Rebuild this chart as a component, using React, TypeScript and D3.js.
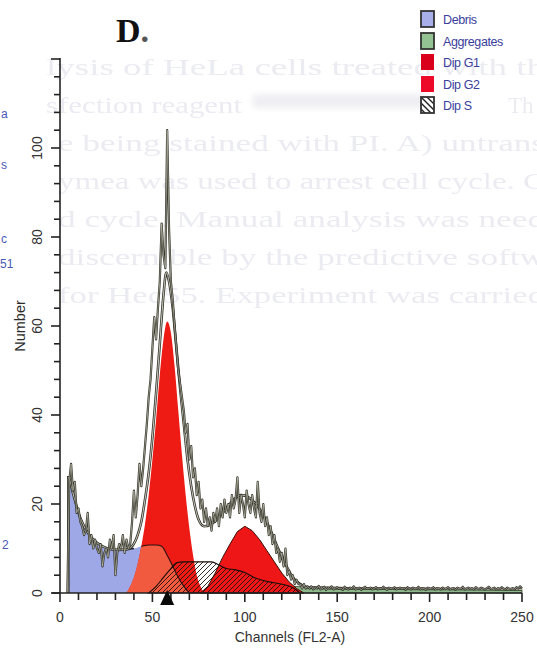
import React from "react";
import * as d3 from "d3";

const W = 537;
const H = 649;

// Axis domains and tick labels
const channelDomain: [number, number] = [0, 250];
const countDomain: [number, number] = [0, 120];
const xTickLabels = [0, 50, 100, 150, 200, 250];
const yTickLabels = [0, 20, 40, 60, 80, 100];
const xMinorStep = 10;
const yMinorStep = 4;

// Legend entries
const legendLabels = ["Debris", "Aggregates", "Dip G1", "Dip G2", "Dip S"];

// Raw histogram counts, one per channel starting at channel 0
const rawCounts = [
  0, 0, 0, 0, 0, 25, 29, 23, 25, 18,
  19, 16, 15, 13, 14, 18, 11, 13, 10, 12,
  10, 9, 11, 6, 9, 10, 8, 12, 10, 13,
  4, 9, 11, 10, 13, 9, 12, 10, 11, 16,
  23, 17, 22, 29, 24, 28, 33, 38, 44, 48,
  55, 62, 57, 64, 70, 83, 76, 73, 104, 82,
  70, 66, 60, 55, 50, 47, 44, 41, 36, 38,
  30, 33, 26, 28, 22, 25, 19, 21, 16, 19,
  15, 17, 14, 18, 16, 19, 15, 20, 17, 21,
  18, 20, 17, 22, 19, 21, 26, 18, 22, 20,
  17, 23, 20, 18, 22, 19, 17, 25, 18, 16,
  20, 15, 17, 13, 15, 11, 13, 9, 10, 7,
  9, 6, 10, 4, 5, 3, 4, 2, 3, 2,
  2, 1, 2, 1, 1.5, 1, 1.5, 0.8, 1.2, 1,
  1.6, 0.8, 1, 1.4, 0.7, 1.2, 1, 1.5, 0.8, 1,
  1.3, 0.9, 1.1, 0.7, 1.4, 1, 0.8, 1.2, 1, 1.5,
  0.8, 1, 1.2, 0.7, 1.1, 1.4, 0.9, 1, 1.2, 0.8,
  1, 1.3, 0.8, 1.1, 0.9, 1.4, 1, 0.7, 1.2, 1,
  0.9, 1.3, 0.8, 1, 1.2, 0.9, 1.1, 0.7, 1.3, 1,
  0.8, 1.2, 1, 0.9, 1.4, 0.8, 1.1, 1, 0.7, 1.2,
  1, 0.9, 1.3, 0.8, 1.1, 1, 0.8, 1.2, 0.9, 1,
  1.3, 0.8, 1, 1.1, 0.7, 1.2, 1, 0.9, 1.4, 0.8,
  1, 1.2, 0.9, 1.1, 0.8, 1.3, 1, 0.9, 1.2, 1,
  0.8, 1.1, 1.4, 0.9, 1, 1.2, 0.8, 1.1, 0.9, 1.3,
  1, 0.8, 1.2, 1, 0.9, 1.1, 0.8, 1.3, 1, 1.5,
  1,
];

// Model components as [channel, count]
const debrisModel: [number, number][] = [
  [4.5, 0], [4.5, 26], [7, 22.5], [10, 18], [13, 15], [16, 13], [20, 11.3],
  [24, 10.3], [28, 9.8], [32, 9.7], [36, 9.8], [40, 10], [44, 10.5],
  [48, 10.8], [52, 10.8], [55, 10.5], [58, 8.5], [61, 6], [64, 3.5],
  [67, 1.5], [70, 0],
];

const aggregatesModel: [number, number][] = [
  [110, 0], [115, 1.2], [125, 1.5], [135, 1.3], [150, 1.1], [175, 1],
  [200, 0.9], [225, 0.9], [250, 0.8],
];

const dipG1Model: [number, number][] = [
  [36, 0], [38, 1.5], [40, 3.5], [42, 6.5], [44, 10.5], [46, 15.5], [48, 22],
  [50, 30], [52, 39], [54, 49], [56, 57], [58, 61], [60, 58.5],
  [62, 51], [64, 41], [66, 31], [68, 22], [70, 14.5], [72, 8.5],
  [74, 4], [76, 1.5], [78, 0],
];

const dipG2Model: [number, number][] = [
  [76, 0], [80, 1.5], [84, 4.5], [88, 8], [92, 11], [96, 13.8], [100, 15],
  [104, 14], [108, 12], [112, 9.5], [116, 7], [120, 4.5], [124, 2.5],
  [128, 1], [132, 0],
];

const dipSModel: [number, number][] = [
  [48, 0], [52, 1.5], [56, 3.5], [60, 5.5], [63, 6.8], [67, 7], [75, 7],
  [82, 7], [86, 6.3], [90, 5.5], [95, 5.2], [100, 4.6], [105, 3.5],
  [110, 2.8], [116, 2.3], [122, 1.8], [126, 1.2], [130, 0],
];

const fitTotal: [number, number][] = [
  [4.5, 0], [4.5, 26], [7, 22.5], [10, 18], [13, 15], [16, 13], [20, 11.3],
  [24, 10.3], [28, 9.8], [32, 9.7], [36, 9.8], [39, 10.5], [42, 13], [44, 16],
  [46, 21], [48, 27], [50, 35], [52, 45], [54, 56], [56, 67], [57.5, 72],
  [59, 70], [61, 64], [63, 55], [65, 46], [67, 38], [69, 30], [71, 24],
  [73, 19.5], [75, 16.5], [78, 15], [82, 15.5], [86, 17], [90, 19], [94, 21],
  [98, 22], [102, 21.5], [106, 20], [110, 17.5], [114, 14], [118, 10],
  [122, 6.5], [126, 3.5], [130, 2], [134, 1.3], [140, 1.2], [170, 1],
  [210, 0.9], [250, 0.8],
];

// Marker position on the channel axis
const markerChannel = 58;

// Faint text printed through from the facing page
const backLines = [
  "lysis of HeLa cells treated with th",
  "sfection reagent",
  "e being stained with PI. A) untrans",
  "ymea was used to arrest cell cycle. C",
  "d cycle. Manual analysis was need",
  "discernible by the predictive softw",
  "for Hec55. Experiment was carried",
];

// Cut-off legend text from the neighbouring panel
const edgeFragments = ["a", "s", "c", "51", "2"];

export default function App() {
  const x = d3.scaleLinear().domain(channelDomain).range([60, 522]);
  const y = d3.scaleLinear().domain(countDomain).range([593, 59]);

  const area = d3
    .area<[number, number]>()
    .x((d) => x(d[0]))
    .y0(y(0))
    .y1((d) => y(d[1]))
    .curve(d3.curveMonotoneX);
  const areaLinear = d3
    .area<[number, number]>()
    .x((d) => x(d[0]))
    .y0(y(0))
    .y1((d) => y(d[1]))
    .curve(d3.curveLinear);
  const line = d3
    .line<[number, number]>()
    .x((d) => x(d[0]))
    .y((d) => y(d[1]))
    .curve(d3.curveMonotoneX);

  const rawPts: [number, number][] = rawCounts.map((v, i) => [i, v]);
  const rawPath =
    d3
      .line<[number, number]>()
      .x((d) => x(d[0]))
      .y((d) => y(d[1]))
      .curve(d3.curveLinear)(rawPts.slice(4)) || "";

  const xMinor = d3.range(channelDomain[0], channelDomain[1] + 1, xMinorStep);
  const yMinor = d3.range(countDomain[0], countDomain[1] + 1, yMinorStep);

  const sans = "Liberation Sans, Arial, sans-serif";
  const legendY = [19, 41, 62, 84, 105];
  const g1Path = area(dipG1Model) || "";

  return (
    <svg width={W} height={H} style={{ position: "absolute", left: 0, top: 0, background: "#fff" }}>
      <defs>
        <pattern id="hatchS" patternUnits="userSpaceOnUse" width="5" height="5">
          <path d="M-1,1 L1,-1 M0,5 L5,0 M4,6 L6,4" stroke="#1c1410" strokeWidth="0.9" />
        </pattern>
        <pattern id="hatchLegend" patternUnits="userSpaceOnUse" width="6" height="6">
          <path d="M-1,5 L1,7 M0,0 L6,6 M5,-1 L7,1" stroke="#222" strokeWidth="1.4" />
        </pattern>
        <clipPath id="g1Clip">
          <path d={g1Path} />
        </clipPath>
        <filter id="soft" x="-5%" y="-30%" width="110%" height="160%">
          <feGaussianBlur stdDeviation="0.7" />
        </filter>
        <filter id="smudge" x="-10%" y="-60%" width="120%" height="220%">
          <feGaussianBlur stdDeviation="3" />
        </filter>
      </defs>

      <rect x={0} y={0} width={W} height={H} fill="#fff" />

      {/* print-through text */}
      <g fill="#ebebf2" fontFamily="Liberation Serif, Times New Roman, serif" fontSize={23} filter="url(#soft)">
        {backLines.map((t, i) => {
          const x0 = i < 2 ? 46 : 58;
          const len = i === 1 ? 196 : 545 - x0;
          return (
            <text key={i} x={x0} y={75 + i * 38} textLength={len} lengthAdjust="spacingAndGlyphs">
              {t}
            </text>
          );
        })}
        <text x={508} y={113}>Th</text>
      </g>
      <rect x={252} y={94} width={176} height={14} rx={6} fill="#eeeef3" filter="url(#smudge)" />

      {/* edge fragments */}
      <g fill="#4a58b4" fontFamily={sans} fontSize={12}>
        <text x={1} y={118}>{edgeFragments[0]}</text>
        <text x={1} y={169}>{edgeFragments[1]}</text>
        <text x={1} y={243}>{edgeFragments[2]}</text>
        <text x={0} y={268}>{edgeFragments[3]}</text>
        <text x={2} y={549}>{edgeFragments[4]}</text>
      </g>

      {/* panel letter */}
      <text x={116} y={42} fontFamily="Liberation Serif, Times New Roman, serif" fontWeight="bold" fontSize={34} fill="#111">
        D<tspan fill="#555">.</tspan>
      </text>

      {/* legend */}
      <g fontFamily={sans} fontSize={12.5} fill="#3a3e9c" letterSpacing={-0.4}>
        {legendLabels.map((lab, i) => {
          const cy = legendY[i];
          let fill = "#a7aee8";
          let stroke = "#333";
          if (i === 1) fill = "#93c393";
          if (i === 2) { fill = "#d9001c"; stroke = "none"; }
          if (i === 3) { fill = "#ec0a28"; stroke = "none"; }
          if (i === 4) fill = "url(#hatchLegend)";
          return (
            <g key={lab}>
              {i === 4 && <rect x={421} y={cy - 8} width={13} height={16} fill="#fff" />}
              <rect x={421} y={cy - 8} width={13} height={16} fill={fill} stroke={stroke} strokeWidth={1.8} />
              <text x={443} y={cy + 4.5}>{lab}</text>
            </g>
          );
        })}
      </g>

      {/* model components */}
      <path d={area(aggregatesModel) || ""} fill="#8cb88c" stroke="#3c4a30" strokeWidth={0.8} />
      <path d={area(debrisModel) || ""} fill="#9ea8e6" />
      <path d={g1Path} fill="#ee1a14" />
      <g clipPath="url(#g1Clip)">
        <path d={area(debrisModel) || ""} fill="#f25a40" />
        <path d={line(debrisModel.slice(1)) || ""} fill="none" stroke="#2a1010" strokeWidth={1.1} />
      </g>
      <path d={areaLinear(dipG2Model) || ""} fill="#ee1616" stroke="#3a1008" strokeWidth={1} />
      <path d={area(dipSModel) || ""} fill="url(#hatchS)" stroke="#1a0c08" strokeWidth={1.1} />
      <path d={line(debrisModel.slice(0, 12)) || ""} fill="none" stroke="#1a1a20" strokeWidth={1.4} />

      {/* fitted envelope */}
      <path d={line(fitTotal) || ""} fill="none" stroke="#34342a" strokeWidth={2.6} />
      <path d={line(fitTotal) || ""} fill="none" stroke="#ecece4" strokeWidth={0.8} />

      {/* raw histogram */}
      <path d={rawPath} fill="none" stroke="#34342a" strokeWidth={2.2} strokeLinejoin="round" />
      <path d={rawPath} fill="none" stroke="#d4d4c4" strokeWidth={0.6} strokeLinejoin="round" />

      {/* y axis */}
      <g stroke="#222" strokeWidth={1.6} fill="none">
        <line x1={x(0)} x2={x(0)} y1={y(countDomain[1]) - 1} y2={y(0)} />
        {yMinor.map((v) => (
          <line key={v} x1={x(0) - (v % 20 === 0 ? 9 : 6)} x2={x(0)} y1={y(v)} y2={y(v)} />
        ))}
      </g>
      <g fontFamily={sans} fontSize={14} fill="#333" textAnchor="middle">
        {yTickLabels.map((v) => (
          <text key={v} transform={`translate(${37},${y(v)}) rotate(-90)`} dy="0.35em">
            {v}
          </text>
        ))}
        <text transform={`translate(${20},${y(60)}) rotate(-90)`} dy="0.35em" fontSize={14.5} fill="#2a2a2a">
          Number
        </text>
      </g>

      {/* x axis */}
      <g stroke="#222" strokeWidth={1.6} fill="none">
        <line x1={x(0) - 8} x2={x(channelDomain[1])} y1={y(0)} y2={y(0)} />
        {xMinor.map((v) => (
          <line key={v} x1={x(v)} x2={x(v)} y1={y(0)} y2={y(0) + (v % 50 === 0 ? 9 : 7)} />
        ))}
      </g>
      <path
        d={`M${x(markerChannel)},${y(0) - 3} L${x(markerChannel) - 7},${y(0) + 12} L${x(markerChannel) + 7},${y(0) + 12} Z`}
        fill="#0a0a0a"
      />
      <g fontFamily={sans} fontSize={14} fill="#333" textAnchor="middle">
        {xTickLabels.map((v) => (
          <text key={v} x={x(v)} y={622}>
            {v}
          </text>
        ))}
        <text x={290} y={642}>Channels (FL2-A)</text>
      </g>
    </svg>
  );
}
